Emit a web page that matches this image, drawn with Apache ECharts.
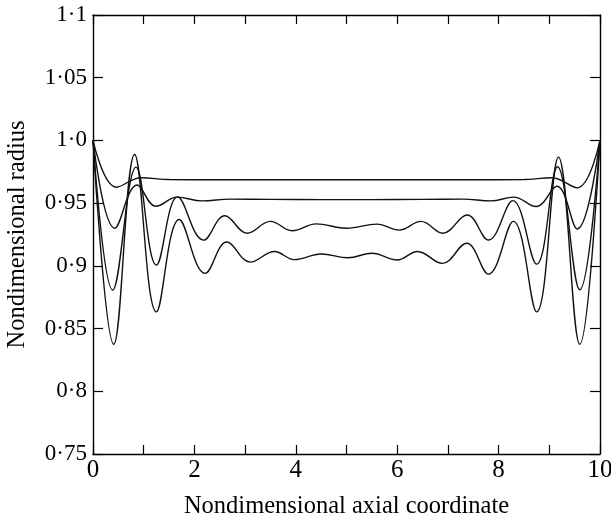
<!DOCTYPE html>
<html>
<head>
<meta charset="utf-8">
<script src="https://cdn.jsdelivr.net/npm/echarts@6/dist/echarts.min.js"></script>
<style>
html,body{margin:0;padding:0;background:#fff;}
#chart{width:611px;height:519px;}
</style>
</head>
<body>
<div id="chart"></div>
<script>
// tick labels (the original uses a raised dot as decimal mark)
var xTickLabels=['0','','2','','4','','6','','8','','10'];
var yTickLabels=['0·75','0·8','0·85','0·9','0·95','1·0','1·05','1·1'];

// four radius profiles
var curveAX=[0,0.46,0.95,1.5,2.5,3.5,4.5,5.5,6.5,7.5,8.5,9.05,9.55,10];
var curveAY=[1.0,0.9627,0.9703,0.9688,0.9686,0.9686,0.9686,0.9686,0.9686,0.9686,0.9688,0.9703,0.9622,1.0];

var curveBX=[0,0.43,0.87,1.24,1.66,2.15,2.7,3.5,4.5,5.5,6.5,7.3,7.85,8.3,8.74,9.15,9.55,10];
var curveBY=[1.0,0.930,0.9645,0.9475,0.9548,0.9518,0.9532,0.953,0.9528,0.9528,0.953,0.9532,0.9518,0.9548,0.9473,0.9635,0.9294,1.0];

var curveCX=[0,0.39,0.85,1.25,1.67,2.18,2.6,3.04,3.5,3.93,4.4,5.0,5.6,6.04,6.47,6.9,7.38,7.8,8.28,8.75,9.16,9.6,10];
var curveCY=[1.0,0.8807,0.9787,0.9006,0.955,0.9205,0.940,0.926,0.9355,0.928,0.9335,0.930,0.9333,0.9285,0.9355,0.926,0.9406,0.9206,0.952,0.9014,0.979,0.881,1.0];

var curveDX=[0,0.41,0.82,1.25,1.7,2.21,2.64,3.1,3.58,3.97,4.5,5.03,5.5,6.0,6.4,6.89,7.37,7.8,8.29,8.75,9.18,9.6,10];
var curveDY=[1.0,0.8375,0.9888,0.8633,0.937,0.894,0.919,0.903,0.9115,0.905,0.9095,0.9065,0.910,0.9047,0.9115,0.902,0.918,0.8934,0.9355,0.8633,0.9867,0.8375,1.0];

var ink='#000';
var serif='"Liberation Serif", "DejaVu Serif", serif';

function pairs(xs,ys){
    var out=[];
    for(var i=0;i<xs.length;i++){ out.push([xs[i],ys[i]]); }
    return out;
}
function line(name,xs,ys){
    return {
        name:name,
        type:'line',
        data:pairs(xs,ys),
        smooth:0.4,
        showSymbol:false,
        symbol:'none',
        lineStyle:{color:'#111',width:1.4},
        z:3
    };
}
function xAx(pos,labels){
    return {
        type:'value',position:pos,min:0,max:10,interval:1,
        axisLine:{show:true,onZero:false,lineStyle:{color:ink,width:1.4}},
        axisTick:{show:true,inside:true,length:9,lineStyle:{color:ink,width:1.2}},
        axisLabel:{show:labels,margin:4,color:ink,fontFamily:serif,fontSize:25,
            formatter:function(v){ return xTickLabels[Math.round(v)]||''; }},
        splitLine:{show:false}
    };
}
function yAx(pos,labels){
    return {
        type:'value',position:pos,min:0.75,max:1.1,interval:0.05,
        axisLine:{show:true,onZero:false,lineStyle:{color:ink,width:1.4}},
        axisTick:{show:true,inside:true,length:10,lineStyle:{color:ink,width:1.2}},
        axisLabel:{show:labels,margin:6,color:ink,fontFamily:serif,fontSize:23,
            formatter:function(v){ return yTickLabels[Math.round((v-0.75)/0.05)]||''; }},
        splitLine:{show:false}
    };
}

var bottomX=xAx('bottom',true);
bottomX.name='Nondimensional axial coordinate';
bottomX.nameLocation='middle';
bottomX.nameGap=40;
bottomX.nameTextStyle={color:ink,fontFamily:serif,fontSize:24.5};
var topX=xAx('top',false);

var leftY=yAx('left',true);
leftY.name='Nondimensional radius';
leftY.nameLocation='middle';
leftY.nameGap=63;
leftY.nameTextStyle={color:ink,fontFamily:serif,fontSize:24.5};
var rightY=yAx('right',false);

var chart=echarts.init(document.getElementById('chart'));
chart.setOption({
    animation:false,
    backgroundColor:'#fff',
    grid:{left:93,right:11,top:15,bottom:65,containLabel:false,outerBoundsMode:'none'},
    xAxis:[bottomX,topX],
    yAxis:[leftY,rightY],
    series:[
        line('a',curveAX,curveAY),
        line('b',curveBX,curveBY),
        line('c',curveCX,curveCY),
        line('d',curveDX,curveDY)
    ]
});
</script>
</body>
</html>
